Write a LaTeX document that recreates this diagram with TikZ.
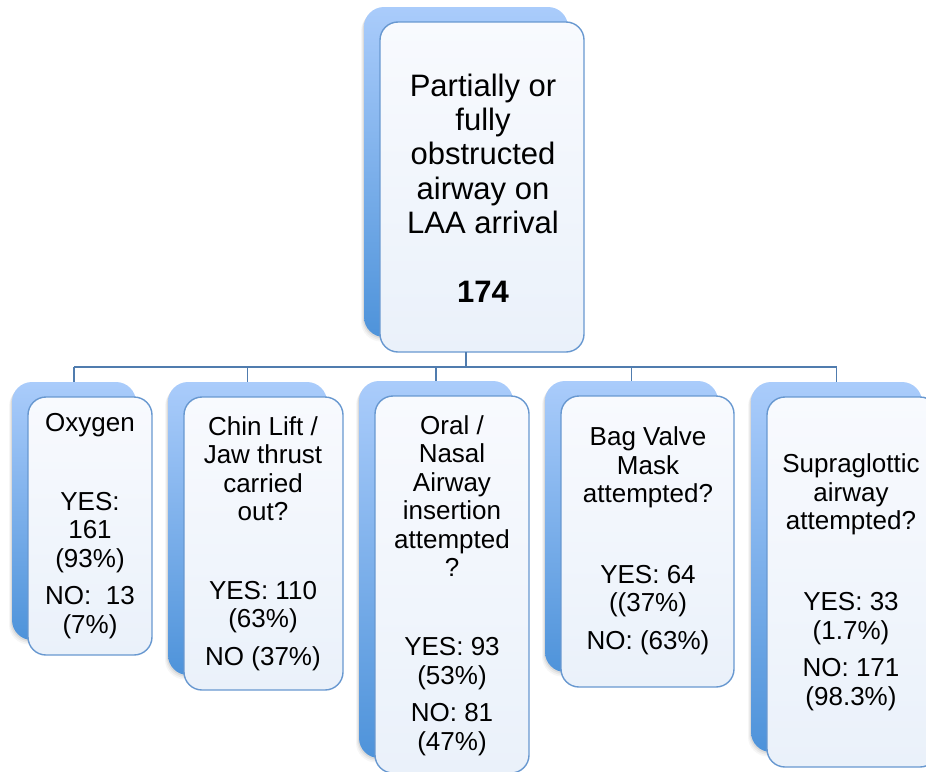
\documentclass[tikz,border=0pt]{standalone}
\usepackage{fontspec}
\setmainfont{Liberation Sans}
\usetikzlibrary{shadows}
\definecolor{backTop}{RGB}{170,204,251}
\definecolor{backBot}{RGB}{78,147,218}
\definecolor{frontLine}{RGB}{104,152,208}
\definecolor{frontTop}{RGB}{248,250,254}
\definecolor{frontBot}{RGB}{234,241,250}
\definecolor{connCol}{RGB}{80,124,174}
\tikzset{
 backbox/.style={rectangle, rounded corners=20pt, top color=backTop, bottom color=backBot, draw=none, inner sep=0pt, outer sep=0pt,
   drop shadow={shadow xshift=-1pt, shadow yshift=-1.5pt, opacity=0.10, fill=black!70},
   drop shadow={shadow xshift=-2pt, shadow yshift=-3pt, opacity=0.07, fill=black!70},
   drop shadow={shadow xshift=-3pt, shadow yshift=-4.5pt, opacity=0.05, fill=black!70}},
 frontbox/.style={rectangle, rounded corners=18pt, top color=frontTop, bottom color=frontBot, draw=frontLine, line width=1.4pt, inner sep=0pt, outer sep=0pt},
 conn/.style={draw=connCol, line width=1.8pt},
 txt/.style={align=center, font=\fontsize{26}{28.5}\selectfont, inner sep=0pt},
 toptxt/.style={align=center, font=\fontsize{31}{34.3}\selectfont, inner sep=0pt},
}
\begin{document}
\begin{tikzpicture}[x=1pt,y=-1pt]
\useasboundingbox (0,0) rectangle (926,771);
% top
\node[backbox, minimum width=204pt, minimum height=330pt] (topb) at (466,172) {};
\node[frontbox, minimum width=204pt, minimum height=330pt] (topf) at ([shift={(16,15)}]topb.center) {};
% children
\node[backbox, minimum width=124pt, minimum height=258pt] (oxb) at (74,511) {};
\node[frontbox, minimum width=124pt, minimum height=258pt] (oxf) at ([shift={(16,15)}]oxb.center) {};
\node[backbox, minimum width=159pt, minimum height=293pt] (chinb) at (247.5,528.5) {};
\node[frontbox, minimum width=159pt, minimum height=293pt] (chinf) at ([shift={(16,15)}]chinb.center) {};
\node[backbox, minimum width=154pt, minimum height=377pt] (oralb) at (436,569.5) {};
\node[frontbox, minimum width=154pt, minimum height=377pt] (oralf) at ([shift={(16,15)}]oralb.center) {};
\node[backbox, minimum width=173pt, minimum height=291pt] (bagb) at (631.5,526.5) {};
\node[frontbox, minimum width=173pt, minimum height=291pt] (bagf) at ([shift={(16,15)}]bagb.center) {};
\node[backbox, minimum width=171pt, minimum height=370pt] (supb) at (836.5,567) {};
\node[frontbox, minimum width=171pt, minimum height=370pt] (supf) at ([shift={(16,15)}]supb.center) {};
% connectors
\coordinate (bus) at (466,367);
\draw[conn] (topb.south |- topf.south) -- (bus);
\draw[conn] (oxb.north |- bus) -- (supb.north |- bus);
\foreach \n in {oxb,chinb,oralb,bagb,supb} \draw[conn] (bus -| \n.north) -- (\n.north);
% texts
\node[toptxt] (toptext) at (483,188) {Partially or\\fully\\obstructed\\airway on\\LAA arrival\\[34.3pt]\textbf{174}};
\node[txt] (oxt1) at (90,425) {Oxygen};
\node[txt] (oxt2) at (90,565.5) {YES:\\161\\(93\%)\\[9pt]NO:\ \ 13\\(7\%)};
\node[txt] (chint1) at (263,468.5) {Chin Lift /\\Jaw thrust\\carried\\out?};
\node[txt] (chint2) at (263,626) {YES: 110\\(63\%)\\[9pt]NO (37\%)};
\node[txt] (oralt1) at (452,496) {Oral /\\Nasal\\Airway\\insertion\\attempted\\?};
\node[txt] (oralt2) at (452,696.5) {YES: 93\\(53\%)\\[9pt]NO: 81\\(47\%)};
\node[txt] (bagt1) at (648,467.5) {Bag Valve\\Mask\\attempted?};
\node[txt] (bagt2) at (648,610) {YES: 64\\((37\%)\\[9pt]NO: (63\%)};
\node[txt] (supt1) at (851,494.5) {Supraglottic\\airway\\attempted?};
\node[txt] (supt2) at (851,651.5) {YES: 33\\(1.7\%)\\[9pt]NO: 171\\(98.3\%)};
\end{tikzpicture}
\end{document}
